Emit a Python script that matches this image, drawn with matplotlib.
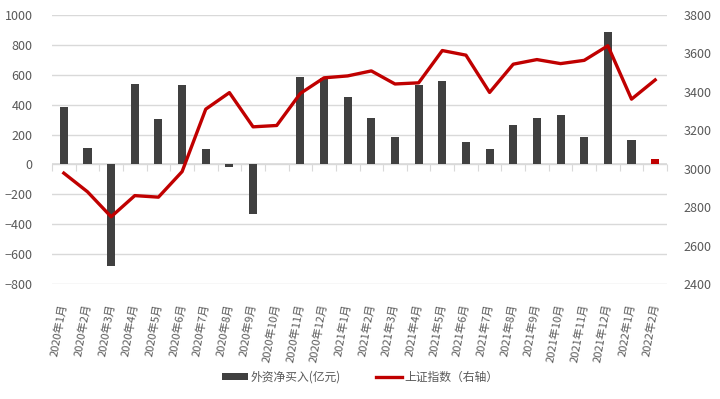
import matplotlib
matplotlib.use("Agg")
import matplotlib.pyplot as plt
import numpy as np

plt.rcParams['font.family'] = ['Liberation Sans Narrow', 'Noto Sans CJK SC', 'DejaVu Sans']

months = ['2020年1月', '2020年2月', '2020年3月', '2020年4月', '2020年5月', '2020年6月',
          '2020年7月', '2020年8月', '2020年9月', '2020年10月', '2020年11月', '2020年12月',
          '2021年1月', '2021年2月', '2021年3月', '2021年4月', '2021年5月', '2021年6月',
          '2021年7月', '2021年8月', '2021年9月', '2021年10月', '2021年11月', '2021年12月',
          '2022年1月', '2022年2月']
net_buy = [384, 111, -677, 536, 301, 529, 105, -20, -329, 0, 582, 578,
           449, 308, 186, 529, 556, 152, 105, 267, 308, 328, 186, 888, 166, 36]
sh_index = [2977, 2880, 2750, 2860, 2852, 2985, 3310, 3396, 3218, 3225, 3392, 3473,
            3483, 3509, 3441, 3447, 3615, 3591, 3397, 3544, 3568, 3547, 3564, 3640,
            3362, 3462]

bar_label = '外资净买入(亿元)'
line_label = '上证指数（右轴）'

gray_txt = '#595959'
grid_c = '#d9d9d9'

fig = plt.figure(figsize=(7.2, 3.99), dpi=100)
ax = fig.add_axes([52/720, 1-284/399, (667-52)/720, (284-15)/399])
ax2 = ax.twinx()

x = np.arange(len(months))
colors = ['#404040'] * (len(months) - 1) + ['#C00000']
ax.bar(x, net_buy, width=0.34, color=colors, zorder=3, label=bar_label)
ax2.plot(x, sh_index, color='#C00000', lw=2.4, zorder=4, label=line_label)

ax.set_xlim(-0.5, len(months) - 0.5)
ax.set_ylim(-800, 1000)
ax.set_yticks(np.arange(-800, 1001, 200))
ax2.set_ylim(2400, 3800)
ax2.set_yticks(np.arange(2400, 3801, 200))

for a in (ax, ax2):
    for s in a.spines.values():
        s.set_visible(False)
ax.grid(axis='y', color=grid_c, lw=1, zorder=0)
ax.set_axisbelow(True)
ax.axhline(0, color=grid_c, lw=1.2, zorder=2)

ax.tick_params(axis='y', length=0, pad=14, labelsize=9, labelcolor=gray_txt)
ax2.tick_params(axis='y', length=0, pad=12, labelsize=9, labelcolor=gray_txt)

ax.set_xticks(x)
ax.set_xticklabels(months, rotation=80, ha='right', va='center', rotation_mode='anchor',
                   fontsize=8, color=gray_txt, family=['Noto Sans CJK SC', 'DejaVu Sans'])
ax.tick_params(axis='x', length=0, pad=14)

# category boundary ticks on the zero line
sec = ax.secondary_xaxis(800/1800)
sec.set_xticks(np.arange(-0.5, len(months), 1))
sec.tick_params(axis='x', direction='out', length=5, color=grid_c, labelbottom=False, labeltop=False)
sec.spines['bottom'].set_visible(False)
sec.spines['top'].set_visible(False)

h1, l1 = ax.get_legend_handles_labels()
h2, l2 = ax2.get_legend_handles_labels()
fig.legend(h1 + h2, l1 + l2, loc='center', bbox_to_anchor=(0.5, 1-377/399), ncol=2,
           frameon=False, prop={'family': ['Noto Sans CJK SC'], 'size': 8.5},
           labelcolor=gray_txt, handlelength=2.2, handleheight=0.5, columnspacing=3,
           handletextpad=0.2)

fig.savefig('out.png', dpi=100)
